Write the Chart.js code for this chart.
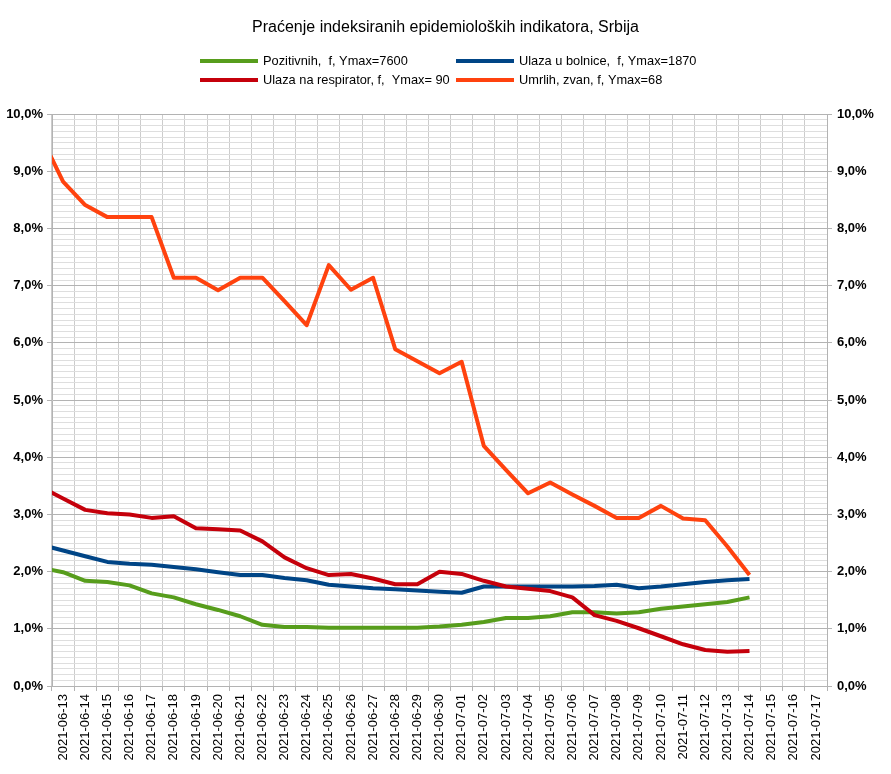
<!DOCTYPE html>
<html>
<head>
<meta charset="utf-8">
<title>Praćenje indeksiranih epidemioloških indikatora, Srbija</title>
<script src="https://cdn.jsdelivr.net/npm/chart.js@4/dist/chart.umd.min.js"></script>
<style>
  body { margin: 0; background: #fff; }
  canvas { display: block; }
</style>
</head>
<body>
<canvas id="chart" width="891" height="774"></canvas>
<script>
// days on the x axis; the first one (06-12) sits just left of the plot and is clipped
const days = [
  '2021-06-12', '2021-06-13', '2021-06-14', '2021-06-15', '2021-06-16', '2021-06-17',
  '2021-06-18', '2021-06-19', '2021-06-20', '2021-06-21', '2021-06-22', '2021-06-23',
  '2021-06-24', '2021-06-25', '2021-06-26', '2021-06-27', '2021-06-28', '2021-06-29',
  '2021-06-30', '2021-07-01', '2021-07-02', '2021-07-03', '2021-07-04', '2021-07-05',
  '2021-07-06', '2021-07-07', '2021-07-08', '2021-07-09', '2021-07-10', '2021-07-11',
  '2021-07-12', '2021-07-13', '2021-07-14', '2021-07-15', '2021-07-16', '2021-07-17'
];

// values in %, from 2021-06-12 to 2021-07-14
const pozitivnih = [
  2.07, 1.99, 1.84, 1.82, 1.76, 1.62, 1.55, 1.43, 1.33, 1.22, 1.07, 1.03, 1.03,
  1.02, 1.02, 1.02, 1.02, 1.02, 1.04, 1.07, 1.12, 1.19, 1.19, 1.22, 1.29, 1.29,
  1.27, 1.29, 1.35, 1.39, 1.43, 1.47, 1.55
];
const bolnice = [
  2.47, 2.37, 2.27, 2.17, 2.14, 2.12, 2.08, 2.04, 1.99, 1.94, 1.94, 1.89, 1.85,
  1.77, 1.74, 1.71, 1.69, 1.67, 1.65, 1.63, 1.74, 1.74, 1.74, 1.74, 1.74, 1.75,
  1.77, 1.71, 1.74, 1.78, 1.82, 1.85, 1.87
];
const respirator = [
  3.48, 3.28, 3.08, 3.02, 3.00, 2.94, 2.97, 2.76, 2.74, 2.72, 2.53, 2.25, 2.06,
  1.94, 1.96, 1.88, 1.78, 1.78, 2.00, 1.96, 1.84, 1.74, 1.70, 1.66, 1.55, 1.24,
  1.14, 1.01, 0.87, 0.73, 0.63, 0.60, 0.61
];
const umrlih = [
  9.62, 8.82, 8.41, 8.20, 8.20, 8.20, 7.14, 7.14, 6.92, 7.14, 7.14, 6.73, 6.31,
  7.36, 6.93, 7.14, 5.89, 5.68, 5.47, 5.67, 4.20, 3.78, 3.37, 3.56, 3.35, 3.15,
  2.94, 2.94, 3.15, 2.93, 2.90, 2.44, 1.94
];

const seriesNames = [
  'Pozitivnih,  f, Ymax=7600',
  'Ulaza u bolnice,  f, Ymax=1870',
  'Ulaza na respirator, f,  Ymax= 90',
  'Umrlih, zvan, f, Ymax=68'
];
const seriesValues = [pozitivnih, bolnice, respirator, umrlih];
const seriesColors = ['#579d1c', '#004586', '#c5000b', '#ff420e'];

const yTickLabels = ['0,0%', '1,0%', '2,0%', '3,0%', '4,0%', '5,0%', '6,0%', '7,0%', '8,0%', '9,0%', '10,0%'];
const yMinorSteps = 10; // light lines every 0,1%

const FONT = '"Liberation Sans", Arial, sans-serif';

// y grid: a major line at each labelled value, minor ones in between
const yGridTicks = [];
for (let i = 0; i < yTickLabels.length; i++) {
  for (let m = 0; m < yMinorSteps; m++) {
    if (i === yTickLabels.length - 1 && m > 0) break;
    yGridTicks.push({ value: i + m / yMinorSteps, major: m === 0 });
  }
}
const isMajor = v => Math.abs(v - Math.round(v)) < 1e-6;
const yLabel = v => isMajor(v) ? yTickLabels[Math.round(v)] : '';

// legend drawn as a 2 x 2 grid like the original
const gridLegend = {
  id: 'gridLegend',
  afterDraw(chart) {
    const c = chart.ctx;
    const cols = [200, 456];
    const rows = [61, 80];
    c.save();
    c.font = '12.8px ' + FONT;
    c.textBaseline = 'middle';
    c.textAlign = 'left';
    seriesNames.forEach((name, k) => {
      const x = cols[k % 2];
      const y = rows[Math.floor(k / 2)];
      c.fillStyle = seriesColors[k];
      c.fillRect(x, y - 2, 58, 4);
      c.fillStyle = '#000';
      c.fillText(name, x + 63, y);
    });
    c.restore();
  }
};

const ctx = document.getElementById('chart');

const chart = new Chart(ctx, {
  type: 'line',
  data: {
    datasets: seriesValues.map((vals, k) => ({
      label: seriesNames[k],
      data: vals.map((v, i) => ({ x: i, y: v })),
      borderColor: seriesColors[k],
      backgroundColor: seriesColors[k],
      borderWidth: 4,
      borderJoinStyle: 'round',
      pointRadius: 0,
      tension: 0,
      fill: false,
      order: seriesValues.length - k // later series on top
    }))
  },
  options: {
    responsive: false,
    animation: false,
    layout: { padding: 0 },
    plugins: {
      legend: { display: false },
      tooltip: { enabled: false },
      title: {
        display: true,
        text: 'Praćenje indeksiranih epidemioloških indikatora, Srbija',
        color: '#000',
        font: { family: FONT, size: 16, weight: 'normal' },
        padding: { top: 18, bottom: 77 }
      }
    },
    scales: {
      x: {
        type: 'linear',
        min: 0.5,
        max: days.length - 0.5,
        afterBuildTicks: s => { s.ticks = days.slice(1).map((d, i) => ({ value: i + 1 })); },
        afterFit: s => { s.height = 88; },
        ticks: {
          autoSkip: false,
          minRotation: 90,
          maxRotation: 90,
          padding: 3,
          color: '#000',
          font: { family: FONT, size: 13 },
          callback: v => days[v]
        },
        grid: { offset: true, color: '#cccccc', tickLength: 5, tickColor: '#b3b3b3' },
        border: { color: '#b3b3b3' }
      },
      y: {
        position: 'left',
        min: 0,
        max: 10,
        afterBuildTicks: s => { s.ticks = yGridTicks.map(t => ({ ...t })); },
        afterFit: s => { s.width = 52; },
        ticks: {
          autoSkip: false,
          padding: 4,
          color: '#000',
          font: { family: FONT, size: 13, weight: 'bold' },
          callback: v => yLabel(v)
        },
        grid: {
          color: c => isMajor(c.tick.value) ? '#b3b3b3' : '#dedede',
          tickLength: 5,
          tickColor: c => isMajor(c.tick.value) ? '#b3b3b3' : 'rgba(0,0,0,0)'
        },
        border: { color: '#b3b3b3' }
      },
      y2: {
        position: 'right',
        min: 0,
        max: 10,
        afterBuildTicks: s => { s.ticks = yGridTicks.map(t => ({ ...t })); },
        afterFit: s => { s.width = 64; },
        ticks: {
          autoSkip: false,
          padding: 5,
          color: '#000',
          font: { family: FONT, size: 13, weight: 'bold' },
          callback: v => yLabel(v)
        },
        grid: {
          drawOnChartArea: false,
          tickLength: 5,
          tickColor: c => isMajor(c.tick.value) ? '#b3b3b3' : 'rgba(0,0,0,0)'
        },
        border: { color: '#b3b3b3' }
      }
    }
  },
  plugins: [gridLegend]
});
</script>
</body>
</html>
